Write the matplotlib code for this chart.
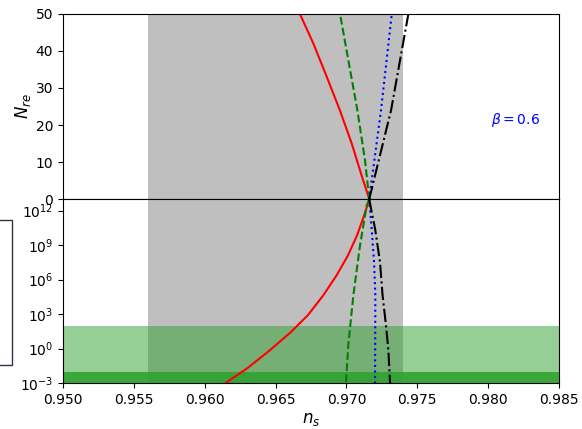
import matplotlib
matplotlib.use("Agg")
import matplotlib.pyplot as plt
from matplotlib.patches import Rectangle
from matplotlib.ticker import NullLocator

# N_re vs n_s (top panel)
nre_red = [0, 6.03, 15.05, 24.05, 33.05, 42.08, 50]
ns_red_top = [0.97161, 0.97110, 0.97037, 0.96953, 0.96861, 0.96766, 0.96672]
nre_green = [0, 10.5, 24.05, 37.6, 50]
ns_green_top = [0.97161, 0.97131, 0.97077, 0.97013, 0.96955]
nre_blue = [0, 24, 50]
ns_blue_top = [0.97161, 0.97244, 0.97320]
nre_black = [0, 24, 50]
ns_black_top = [0.97161, 0.97315, 0.97437]

# log10 T_re vs n_s (bottom panel)
logt_red = [12.96, 11.57, 9.84, 8.10, 6.37, 4.63, 2.90, 1.45, -0.14, -1.73, -3.0]
ns_red_bot = [0.97161, 0.97125, 0.97075, 0.97011, 0.96931, 0.96837,
              0.96728, 0.96610, 0.96461, 0.96299, 0.96148]
logt_green = [12.96, 12.44, 8.97, 4.63, 0.30, -3.0]
ns_green_bot = [0.97161, 0.97143, 0.97096, 0.97049, 0.97013, 0.96997]
logt_blue = [12.96, 10.42, 7.52, 4.63, -3.0]
ns_blue_bot = [0.97161, 0.97178, 0.97195, 0.97204, 0.97202]
logt_black = [12.96, 10.42, 7.52, 4.63, 2.03, -0.14, -3.0]
ns_black_bot = [0.97161, 0.97202, 0.97237, 0.97255, 0.97279, 0.97296, 0.97308]

ns_band = (0.956, 0.974)
t_bbn = (1e-3, 1e-2)
t_ew = (1e-3, 1e2)

fig = plt.figure(figsize=(5.82, 4.29), dpi=100)
ax1 = fig.add_axes([0.1082, 0.5361, 0.8523, 0.4313])
ax2 = fig.add_axes([0.1082, 0.1072, 0.8523, 0.4289], sharex=ax1)

styles = [("r", "-"), ("g", "--"), ("b", ":"), ("k", "-.")]

ax1.axvspan(*ns_band, color="grey", alpha=0.5, lw=0)
for (c, ls), x, y in zip(styles,
                         [ns_red_top, ns_green_top, ns_blue_top, ns_black_top],
                         [nre_red, nre_green, nre_blue, nre_black]):
    ax1.plot(x, y, color=c, ls=ls, lw=1.5)
ax1.set_ylim(0, 50)
ax1.set_yticks([0, 10, 20, 30, 40, 50])
ax1.set_ylabel("$N_{re}$", fontsize=12, labelpad=2)
ax1.text(0.9819, 21.4, r"$\beta = 0.6$", color="b", ha="center", va="center", fontsize=10)
plt.setp(ax1.get_xticklabels(), visible=False)
ax1.tick_params(axis="x", length=0)

ax2.axvspan(*ns_band, color="grey", alpha=0.5, lw=0)
ax2.axhspan(*t_ew, color="#2ca02c", alpha=0.5, lw=0)
ax2.axhspan(*t_bbn, color="#2ca02c", alpha=0.85, lw=0)
for (c, ls), x, y in zip(styles,
                         [ns_red_bot, ns_green_bot, ns_blue_bot, ns_black_bot],
                         [logt_red, logt_green, logt_blue, logt_black]):
    ax2.plot(x, [10 ** v for v in y], color=c, ls=ls, lw=1.5)
ax2.set_yscale("log")
ax2.set_ylim(1e-3, 1e13)
ax2.set_yticks([1e-3, 1e0, 1e3, 1e6, 1e9, 1e12])
ax2.yaxis.set_minor_locator(NullLocator())
ax2.set_xlim(0.950, 0.985)
ax2.set_xticks([0.950, 0.955, 0.960, 0.965, 0.970, 0.975, 0.980, 0.985])
ax2.set_xticklabels(["0.950", "0.955", "0.960", "0.965", "0.970", "0.975", "0.980", "0.985"])
ax2.set_xlabel("$n_s$", fontsize=12, labelpad=2)

# legend frame that sits outside the figure on the left
fig.patches.append(Rectangle((-0.05, 1 - 365 / 429), 0.05 + 12.3 / 582, 145 / 429,
                             transform=fig.transFigure, fill=False,
                             edgecolor="#333344", lw=1.0))

fig.savefig("out.png", dpi=100)
